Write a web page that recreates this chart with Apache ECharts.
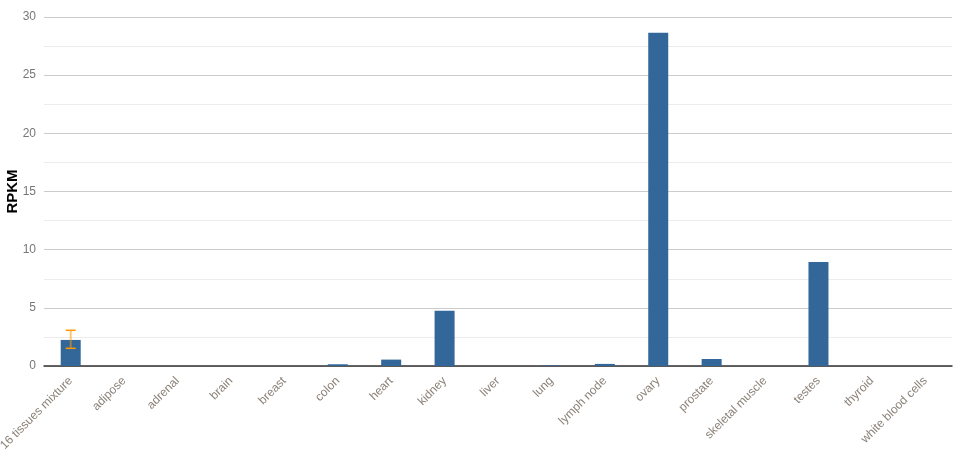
<!DOCTYPE html>
<html><head><meta charset="utf-8">
<script src="https://cdn.jsdelivr.net/npm/echarts@6/dist/echarts.min.js"></script>
<style>html,body{margin:0;padding:0;background:#fff}#c{width:965px;height:467px}</style>
</head><body><div id="c"></div>
<script>
var categories = ["16 tissues mixture","adipose","adrenal","brain","breast","colon","heart","kidney","liver","lung","lymph node","ovary","prostate","skeletal muscle","testes","thyroid","white blood cells"];
var values = [2.24,0,0,0,0,0.15,0.55,4.75,0,0.05,0.18,28.65,0.6,0,8.95,0,0];
var errLow = [1.52];
var errHigh = [3.07];
var errCats = ["16 tissues mixture"];
var yTicks = [0,5,10,15,20,25,30];

var chart = echarts.init(document.getElementById('c'));
chart.setOption({
  animation:false,
  grid:{left:44,right:13,top:17,bottom:101,containLabel:false,outerBoundsMode:'none'},
  xAxis:{type:'category',data:categories,
    axisLine:{lineStyle:{color:'#333',width:1.5}},
    axisTick:{show:false},
    axisLabel:{rotate:45,interval:0,color:'#8a8077',fontSize:12,fontFamily:'Arial, Liberation Sans, sans-serif',margin:13}},
  yAxis:{type:'value',min:yTicks[0],max:yTicks[yTicks.length-1],interval:5,
    name:'RPKM',nameLocation:'middle',nameGap:24,nameMoveOverlap:false,
    nameTextStyle:{fontWeight:'bold',fontSize:15,color:'#000',fontFamily:'Arial, Liberation Sans, sans-serif'},
    axisLine:{show:false},axisTick:{show:false},
    axisLabel:{color:'#777',fontSize:12,fontFamily:'Arial, Liberation Sans, sans-serif',margin:8},
    splitLine:{lineStyle:{color:'#ccc'}},
    minorTick:{show:false,splitNumber:2},
    minorSplitLine:{show:true,lineStyle:{color:'#ececec'}}},
  series:[
    {type:'bar',data:values,barWidth:20,itemStyle:{color:'#336699'}},
    {type:'custom',
     data:errCats.map(function(c,i){return [c,errLow[i],errHigh[i]];}),
     renderItem:function(params,api){
       var x=api.value(0);
       var lo=api.coord([x,api.value(1)]);
       var hi=api.coord([x,api.value(2)]);
       var hw=5;
       return {type:'group',children:[
         {type:'line',shape:{x1:hi[0],y1:hi[1],x2:lo[0],y2:lo[1]},style:{stroke:'rgba(255,153,0,0.55)',lineWidth:2}},
         {type:'line',shape:{x1:hi[0]-hw,y1:hi[1],x2:hi[0]+hw,y2:hi[1]},style:{stroke:'#ff9900',lineWidth:1.5}},
         {type:'line',shape:{x1:lo[0]-hw,y1:lo[1],x2:lo[0]+hw,y2:lo[1]},style:{stroke:'#ff9900',lineWidth:1.5}}
       ]};
     },z:5}
  ]
});
</script></body></html>
